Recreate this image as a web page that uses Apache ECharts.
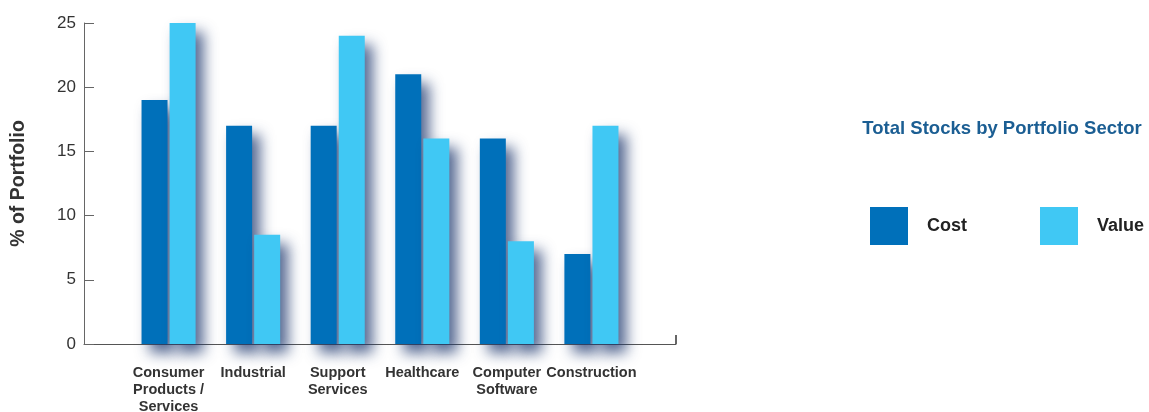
<!DOCTYPE html>
<html>
<head>
<meta charset="utf-8">
<script src="https://cdn.jsdelivr.net/npm/echarts@6/dist/echarts.min.js"></script>
<style>
  html, body { margin: 0; padding: 0; background: #ffffff; }
  #chart { width: 1149px; height: 412px; }
</style>
</head>
<body>
<div id="chart"></div>
<script>
// Portfolio sectors and their share of the portfolio (%)
const sectors = ['Consumer\nProducts /\nServices', 'Industrial', 'Support\nServices', 'Healthcare', 'Computer\nSoftware', 'Construction'];
const costValues = [19, 17, 17, 21, 16, 7];
const marketValues = [25, 8.5, 24, 16, 8, 17];
const yTicks = [0, 5, 10, 15, 20, 25];

const COST_COLOR = '#0070BA';
const VALUE_COLOR = '#40C8F4';
const FONT = 'Liberation Sans, Arial, sans-serif';

// Empty slots at both ends leave room between the axis ends and the first/last sector
const axisCats = [''].concat(sectors, ['']);
const pad = arr => [null].concat(arr, [null]);

const shadow = {
  shadowBlur: 14,
  shadowOffsetX: 8,
  shadowOffsetY: 9,
  shadowColor: 'rgba(30, 55, 110, 0.75)'
};

const chart = echarts.init(document.getElementById('chart'), null, { renderer: 'canvas' });
chart.setOption({
  animation: false,
  backgroundColor: '#ffffff',
  title: {
    text: 'Total Stocks by Portfolio Sector',
    left: 997,
    top: 114,
    textAlign: 'center',
    textStyle: { color: '#1B5E93', fontSize: 18.5, fontWeight: 'bold', fontFamily: FONT }
  },
  legend: {
    left: 870,
    top: 207,
    padding: 0,
    orient: 'horizontal',
    itemWidth: 38,
    itemHeight: 38,
    itemGap: 73,
    icon: 'rect',
    data: ['Cost', 'Value'],
    textStyle: { color: '#222222', fontSize: 18, fontWeight: 'bold', fontFamily: FONT, padding: [0, 0, 0, 14] }
  },
  grid: { left: 84, right: 473, top: 23, bottom: 68, containLabel: false, outerBoundsMode: 'none' },
  xAxis: {
    type: 'category',
    data: axisCats,
    boundaryGap: false,
    axisLine: { lineStyle: { color: '#555555', width: 1 } },
    axisTick: { show: false },
    axisLabel: {
      interval: 0,
      margin: 20,
      color: '#333333',
      fontSize: 14.5,
      fontWeight: 'bold',
      fontFamily: FONT,
      lineHeight: 17,
      align: 'center'
    }
  },
  yAxis: {
    type: 'value',
    min: 0,
    max: 25,
    interval: 5,
    name: '% of Portfolio',
    nameLocation: 'middle',
    nameGap: 55,
    nameTextStyle: { color: '#333333', fontSize: 19.5, fontWeight: 'bold', fontFamily: FONT },
    axisLine: { show: true, lineStyle: { color: '#666666', width: 1 } },
    axisTick: { show: true, inside: true, length: 10, lineStyle: { color: '#666666' } },
    splitLine: { show: false },
    axisLabel: {
      margin: 8,
      color: '#333333',
      fontSize: 17,
      fontFamily: FONT,
      formatter: v => (yTicks.indexOf(v) >= 0 ? String(v) : '')
    }
  },
  series: [
    {
      name: 'Cost',
      type: 'bar',
      data: pad(costValues),
      barWidth: 26,
      barGap: '8%',
      itemStyle: Object.assign({ color: COST_COLOR }, shadow)
    },
    {
      name: 'Value',
      type: 'bar',
      data: pad(marketValues),
      barWidth: 26,
      itemStyle: Object.assign({ color: VALUE_COLOR }, shadow)
    }
  ],
  graphic: [
    {
      // closing tick at the right end of the baseline
      type: 'line',
      shape: { x1: 676, y1: 335, x2: 676, y2: 344 },
      style: { stroke: '#333333', lineWidth: 1.5 }
    }
  ]
});
</script>
</body>
</html>
